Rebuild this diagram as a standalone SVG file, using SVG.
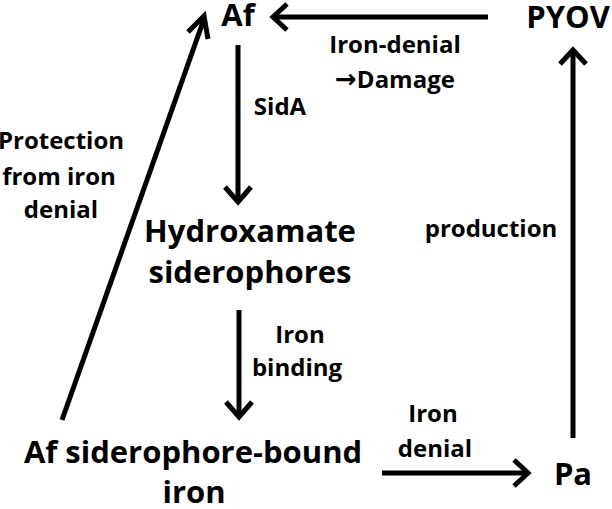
<svg xmlns="http://www.w3.org/2000/svg" width="612" height="509" viewBox="0 0 612 509">
<style>
text{font-family:"Open Sans","Liberation Sans",sans-serif;font-weight:bold;fill:#000;text-anchor:middle}
.big{font-size:31px}
.lbl{font-size:24px}
.arr{font-family:"DejaVu Sans",sans-serif;font-size:26px}
.ln{stroke:#000;stroke-width:5;fill:none}
.hd{stroke:#000;stroke-width:5;fill:none;stroke-linejoin:miter;stroke-linecap:butt}
</style>
<rect width="612" height="509" fill="#fff"/>
<g id="connectors">
<g id="e-pyov-af"><line class="ln" x1="488" y1="17" x2="275" y2="17"/><polyline class="hd" points="287,4 273,17 287,30"/></g>
<g id="e-af-hydrox"><line class="ln" x1="238" y1="45" x2="238" y2="200"/><polyline class="hd" points="225,187 238,202 251,187"/></g>
<g id="e-hydrox-bound"><line class="ln" x1="239" y1="310" x2="239" y2="414"/><polyline class="hd" points="226,402 239,417 252,402"/></g>
<g id="e-bound-pa"><line class="ln" x1="382" y1="473" x2="525" y2="473"/><polyline class="hd" points="514,460 528,473 514,486"/></g>
<g id="e-pa-pyov"><line class="ln" x1="573" y1="438" x2="573" y2="52"/><polyline class="hd" points="560,64 573,50 586,64"/></g>
<g id="e-bound-af"><line class="ln" x1="62" y1="420" x2="204" y2="19"/><polyline class="hd" points="188,32 204,16 208,39"/></g>
</g>
<g id="n-af"><text class="big" x="238" y="26">Af</text></g>
<g id="n-pyov"><text class="big" x="568" y="28">PYOV</text></g>
<g id="n-hydrox"><text class="big" x="250" y="242">Hydroxamate</text><text class="big" x="250" y="283">siderophores</text></g>
<g id="n-bound"><text class="big" x="193" y="463">Af siderophore-bound</text><text class="big" x="194" y="503">iron</text></g>
<g id="n-pa"><text class="big" x="573" y="485">Pa</text></g>
<g id="labels">
<text class="lbl" x="395" y="53">Iron-denial</text>
<text class="lbl" x="395" y="88"><tspan class="arr">→</tspan>Damage</text>
<text class="lbl" x="280" y="115">SidA</text>
<text class="lbl" x="300" y="343">Iron</text>
<text class="lbl" x="297" y="376">binding</text>
<text class="lbl" x="433" y="422">Iron</text>
<text class="lbl" x="435" y="457">denial</text>
<text class="lbl" x="491" y="237">production</text>
<text class="lbl" x="61" y="149">Protection</text>
<text class="lbl" x="59" y="185">from iron</text>
<text class="lbl" x="61" y="218">denial</text>
</g>
</svg>
